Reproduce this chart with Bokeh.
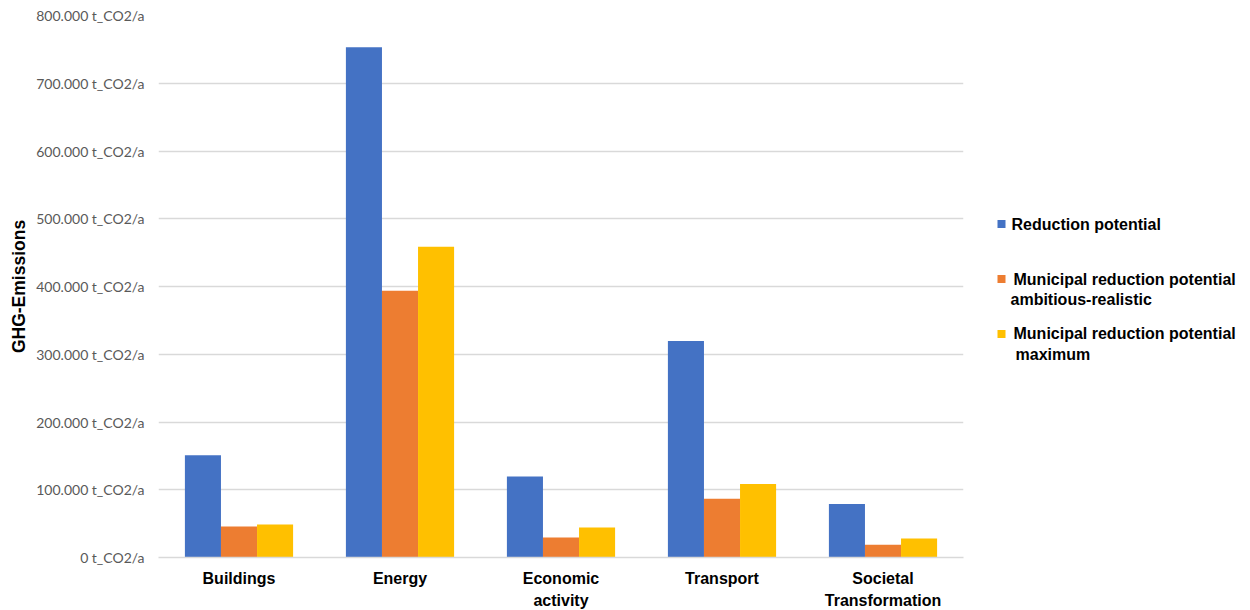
from bokeh.plotting import figure
from bokeh.models import FactorRange, Range1d, FixedTicker, ColumnDataSource
from bokeh.transform import dodge
from bokeh.layouts import row
from bokeh.core.properties import value
from bokeh.embed import file_html
from bokeh.resources import INLINE

# Sectors and reduction potentials (t CO2 per year)
categories = ["Buildings", "Energy", "Economic\nactivity", "Transport", "Societal\nTransformation"]
reduction_potential = [150800, 753000, 119700, 319700, 78800]
municipal_ambitious_realistic = [45800, 393600, 29600, 86700, 18800]
municipal_maximum = [48800, 458700, 44300, 108400, 28100]

series_names = [
    "Reduction potential",
    "Municipal reduction potential\nambitious-realistic",
    "Municipal reduction potential\nmaximum",
]
series_colors = ["#4472C4", "#ED7D31", "#FFC000"]

y_ticks = [0, 100000, 200000, 300000, 400000, 500000, 600000, 700000, 800000]
y_tick_labels = [
    "0 t_CO2/a", "100.000 t_CO2/a", "200.000 t_CO2/a", "300.000 t_CO2/a",
    "400.000 t_CO2/a", "500.000 t_CO2/a", "600.000 t_CO2/a", "700.000 t_CO2/a",
    "800.000 t_CO2/a",
]

source = ColumnDataSource(dict(
    cat=categories,
    s0=reduction_potential,
    s1=municipal_ambitious_realistic,
    s2=municipal_maximum,
))

p = figure(
    x_range=FactorRange(*categories),
    y_range=Range1d(0, 800000),
    frame_width=805, frame_height=542,
    output_backend="svg", toolbar_location=None,
    min_border_left=158, min_border_right=12,
    min_border_top=15, min_border_bottom=53,
)
p.outline_line_color = None
p.background_fill_color = "white"
p.border_fill_color = "white"

bar_w = 0.224
offsets = [-bar_w, 0.0, bar_w]
for key, off, color in zip(["s0", "s1", "s2"], offsets, series_colors):
    p.vbar(x=dodge("cat", off, range=p.x_range), top=key, width=bar_w,
           source=source, fill_color=color, line_color=None)

# Axes and grid
p.yaxis.ticker = FixedTicker(ticks=y_ticks)
p.yaxis.major_label_overrides = {t: lab for t, lab in zip(y_ticks, y_tick_labels)}
p.yaxis.axis_line_color = None
p.yaxis.major_tick_line_color = None
p.yaxis.minor_tick_line_color = None
p.yaxis.major_label_text_font = "Lato"
p.yaxis.major_label_text_font_size = "14px"
p.yaxis.major_label_text_color = "#595959"
p.yaxis.major_label_standoff = 8
p.yaxis.axis_label = "GHG-Emissions"
p.yaxis.axis_label_text_font = "Liberation Sans"
p.yaxis.axis_label_text_font_style = "bold"
p.yaxis.axis_label_text_font_size = "17.5px"
p.yaxis.axis_label_text_color = "black"
p.yaxis.axis_label_standoff = 4

p.xaxis.axis_line_color = "#d9d9d9"
p.xaxis.axis_line_width = 1.5
p.xaxis.major_tick_line_color = None
p.xaxis.minor_tick_line_color = None
p.xaxis.major_label_text_font = "Liberation Sans"
p.xaxis.major_label_text_font_style = "bold"
p.xaxis.major_label_text_font_size = "16px"
p.xaxis.major_label_text_line_height = 1.3
p.xaxis.major_label_text_color = "black"
p.xaxis.major_label_standoff = 6

p.xgrid.grid_line_color = None
p.ygrid.grid_line_color = "#d9d9d9"
p.ygrid.grid_line_width = 1.5

# Legend panel; its frame shares the chart's top and bottom, so y here is page pixels
leg = figure(
    x_range=Range1d(0, 275), y_range=Range1d(557, 15),
    width=275, height=610,
    output_backend="svg", toolbar_location=None,
    min_border_left=0, min_border_right=0,
    min_border_top=15, min_border_bottom=53,
)
leg.axis.visible = False
leg.grid.visible = False
leg.outline_line_color = None

marker_x = [26, 26, 26]
marker_y = [224, 279, 334]
leg.rect(x=marker_x, y=marker_y, width=8, height=8,
         fill_color=series_colors, line_color=None)

lines = [n.split("\n") for n in series_names]
text_x, text_y, text_s = [], [], []
first_x = [36, 38, 38]
second_x = [36, 35, 40]
for i, parts in enumerate(lines):
    for j, part in enumerate(parts):
        text_x.append(first_x[i] if j == 0 else second_x[i])
        text_y.append(marker_y[i] + 21 * j)
        text_s.append(part)
leg.text(x=text_x, y=text_y, text=text_s,
         text_font=value("Liberation Sans"), text_font_style="bold",
         text_font_size="16px", text_color="black",
         text_baseline="middle", text_align="left")

layout = row(p, leg, spacing=0)
open("out.html", "w").write(file_html(layout, INLINE))
